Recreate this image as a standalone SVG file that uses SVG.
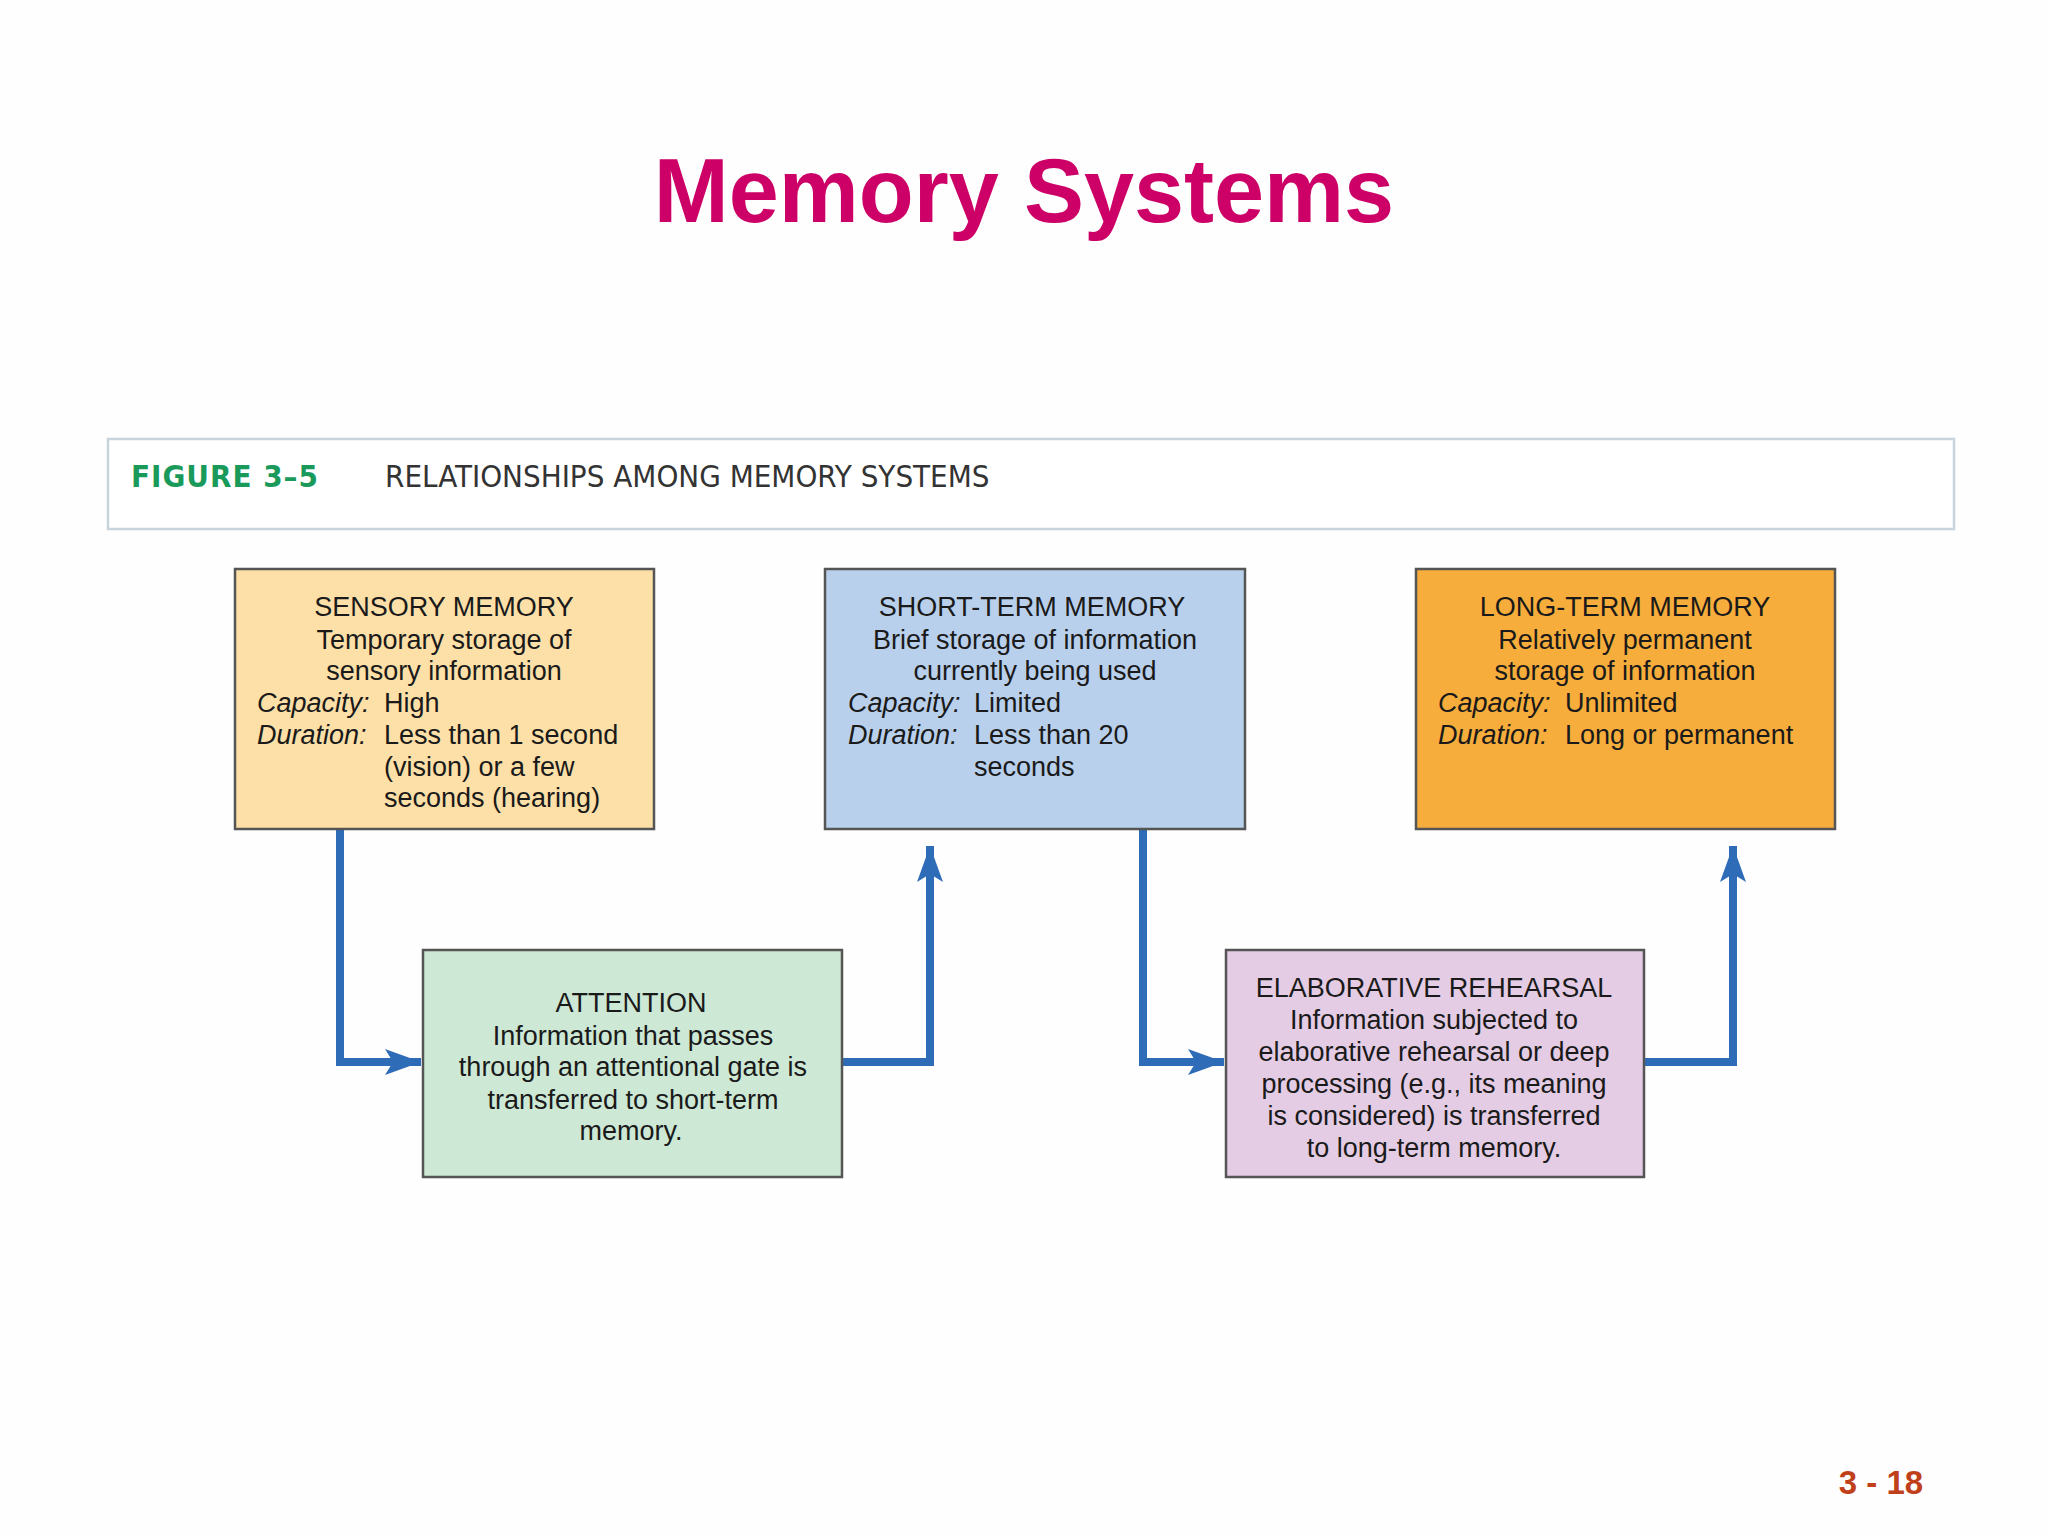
<svg xmlns="http://www.w3.org/2000/svg" width="2048" height="1536" viewBox="0 0 2048 1536">
<style>
.b{stroke:#555;stroke-width:2.5}
.t{font-family:"Liberation Sans",Arial,sans-serif;font-size:27px;fill:#1a1a1a}
.c{text-anchor:middle}
.i{font-style:italic}
.con{fill:none;stroke:#2f6cb7;stroke-width:8;marker-end:url(#ah)}
</style>
<defs>
<marker id="ah" markerUnits="userSpaceOnUse" markerWidth="40" markerHeight="30" refX="36" refY="13" orient="auto">
<path d="M0,0 L36,13 L0,26 L8,13 Z" fill="#2f6cb7"/>
</marker>
</defs>
<rect width="2048" height="1536" fill="#fefefe"/>
<text x="1024" y="222" text-anchor="middle" font-family="Liberation Sans,Arial,sans-serif" font-weight="bold" font-size="90" fill="#cc0066">Memory Systems</text>
<g id="header">
<rect x="108" y="439" width="1846" height="90" fill="#fff" stroke="#c8d4dc" stroke-width="2.5"/>
<text x="131" y="487" font-family="DejaVu Sans Condensed,DejaVu Sans,sans-serif" font-weight="bold" font-size="31" fill="#1a9a5a" letter-spacing="1">FIGURE 3–5</text>
<text x="385" y="487" font-family="DejaVu Sans Condensed,DejaVu Sans,sans-serif" font-size="31" fill="#333">RELATIONSHIPS AMONG MEMORY SYSTEMS</text>
</g>
<g id="connectors">
<polyline class="con" points="340,829 340,1062 421,1062"/>
<polyline class="con" points="842,1062 930,1062 930,846"/>
<polyline class="con" points="1143,829 1143,1062 1224,1062"/>
<polyline class="con" points="1644,1062 1733,1062 1733,846"/>
</g>
<g id="sensory">
<rect class="b" x="235" y="569" width="419" height="260" fill="#fde0a8"/>
<text class="t c" x="444" y="616">SENSORY MEMORY</text>
<text class="t c" x="444" y="649">Temporary storage of</text>
<text class="t c" x="444" y="680">sensory information</text>
<text class="t i" x="257" y="712">Capacity:</text><text class="t" x="384" y="712">High</text>
<text class="t i" x="257" y="744">Duration:</text><text class="t" x="384" y="744">Less than 1 second</text>
<text class="t" x="384" y="776">(vision) or a few</text>
<text class="t" x="384" y="807">seconds (hearing)</text>
</g>
<g id="stm">
<rect class="b" x="825" y="569" width="420" height="260" fill="#b9d0ec"/>
<text class="t c" x="1032" y="616">SHORT-TERM MEMORY</text>
<text class="t c" x="1035" y="649">Brief storage of information</text>
<text class="t c" x="1035" y="680">currently being used</text>
<text class="t i" x="848" y="712">Capacity:</text><text class="t" x="974" y="712">Limited</text>
<text class="t i" x="848" y="744">Duration:</text><text class="t" x="974" y="744">Less than 20</text>
<text class="t" x="974" y="776">seconds</text>
</g>
<g id="ltm">
<rect class="b" x="1416" y="569" width="419" height="260" fill="#f7ad3c"/>
<text class="t c" x="1625" y="616">LONG-TERM MEMORY</text>
<text class="t c" x="1625" y="649">Relatively permanent</text>
<text class="t c" x="1625" y="680">storage of information</text>
<text class="t i" x="1438" y="712">Capacity:</text><text class="t" x="1565" y="712">Unlimited</text>
<text class="t i" x="1438" y="744">Duration:</text><text class="t" x="1565" y="744">Long or permanent</text>
</g>
<g id="attention">
<rect class="b" x="423" y="950" width="419" height="227" fill="#cde8d5"/>
<text class="t c" x="631" y="1012">ATTENTION</text>
<text class="t c" x="633" y="1045">Information that passes</text>
<text class="t c" x="633" y="1076">through an attentional gate is</text>
<text class="t c" x="633" y="1109">transferred to short-term</text>
<text class="t c" x="631" y="1140">memory.</text>
</g>
<g id="elaborative">
<rect class="b" x="1226" y="950" width="418" height="227" fill="#e4cce4"/>
<text class="t c" x="1434" y="997">ELABORATIVE REHEARSAL</text>
<text class="t c" x="1434" y="1029">Information subjected to</text>
<text class="t c" x="1434" y="1061">elaborative rehearsal or deep</text>
<text class="t c" x="1434" y="1093">processing (e.g., its meaning</text>
<text class="t c" x="1434" y="1125">is considered) is transferred</text>
<text class="t c" x="1434" y="1157">to long-term memory.</text>
</g>
<text x="1881" y="1494" text-anchor="middle" font-family="Liberation Sans,Arial,sans-serif" font-weight="bold" font-size="33" fill="#c0401a">3 - 18</text>
</svg>
